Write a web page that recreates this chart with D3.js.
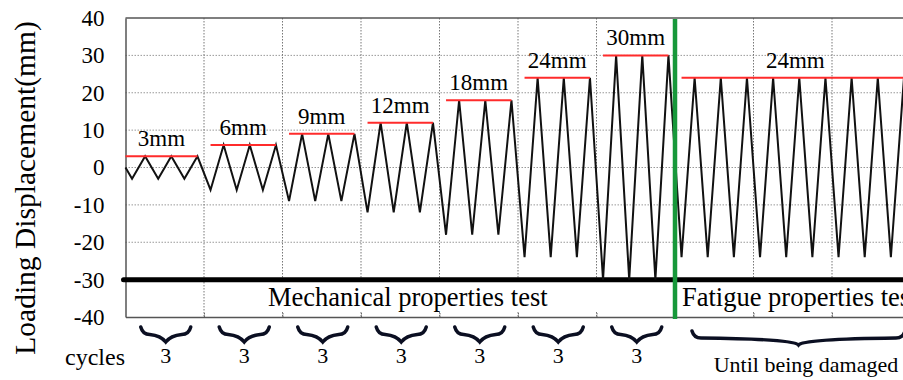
<!DOCTYPE html>
<html>
<head>
<meta charset="utf-8">
<script src="https://cdn.jsdelivr.net/npm/d3@7"></script>
<style>
  body { margin: 0; background: #fff; }
  svg { display: block; font-family: "Liberation Serif", "Times New Roman", serif; }
</style>
</head>
<body>
<svg id="chart"></svg>
<script>
// loading protocol
var blockLabels = ["3mm", "6mm", "9mm", "12mm", "18mm", "24mm", "30mm", "24mm"];
var blockAmplitude = [3, 6, 9, 12, 18, 24, 30, 24];
var blockCycles = [3, 3, 3, 3, 3, 3, 3, 9];   // last block runs on past the frame
var cycleTexts = ["3", "3", "3", "3", "3", "3", "3", "Until being damaged"];
var phaseTexts = ["Mechanical properties test", "Fatigue properties test"];

// one peak / one trough per cycle (mm)
var peakValues   = [3, 3, 3, 6, 6, 6, 9, 9, 9, 12, 12, 12, 18, 18, 18, 24, 24, 24, 30, 30, 30,
                    24, 24, 24, 24, 24, 24, 24, 24, 24];
var troughValues = [-3, -3, -3, -6, -6, -6, -9, -9, -9, -12, -12, -12, -18, -18, -18, -24, -24, -24, -30, -30, -30,
                    -24, -24, -24, -24, -24, -24, -24, -24, -24];

var yTicks = [40, 30, 20, 10, 0, -10, -20, -30, -40];
var yGrid = [30, 20, 10, 0, -10, -20];

var screen = { width: 903, height: 380 };

var drawChart = function(svgSelector) {
  var svg = d3.select(svgSelector)
    .attr("width", screen.width)
    .attr("height", screen.height);

  var xScale = d3.scaleLinear().domain([0, 30]).range([125.5, 910.5]);
  var yScale = d3.scaleLinear().domain([-40, 40]).range([317, 18]);
  var right = screen.width;

  // block boundaries (in cycles)
  var starts = [];
  var acc = 0;
  blockCycles.forEach(function(n) { starts.push(acc); acc += n; });
  var fatigueStart = starts[starts.length - 1];

  // horizontal dotted grid
  svg.append("g").selectAll("line")
    .data(yGrid).enter().append("line")
    .attr("x1", xScale(0)).attr("x2", right)
    .attr("y1", function(d) { return yScale(d); })
    .attr("y2", function(d) { return yScale(d); })
    .style("stroke", "#999").style("stroke-width", 1)
    .style("stroke-dasharray", "1.5,1.5");

  // vertical dotted grid every block
  var vTicks = d3.range(3, 31, 3).filter(function(d) { return d !== fatigueStart; });
  svg.append("g").selectAll("line")
    .data(vTicks).enter().append("line")
    .attr("x1", function(d) { return xScale(d); })
    .attr("x2", function(d) { return xScale(d); })
    .attr("y1", yScale(40)).attr("y2", yScale(-40))
    .style("stroke", "#777").style("stroke-width", 1)
    .style("stroke-dasharray", "1.5,1.5");

  // white label boxes under the -30 line
  svg.append("rect")
    .attr("x", xScale(3) + 2).attr("y", yScale(-30) + 2)
    .attr("width", xScale(fatigueStart) - xScale(3) - 4)
    .attr("height", yScale(-40) - yScale(-30) - 7)
    .attr("fill", "white");
  svg.append("rect")
    .attr("x", xScale(fatigueStart) + 2).attr("y", yScale(-30) + 2)
    .attr("width", right - xScale(fatigueStart))
    .attr("height", yScale(-40) - yScale(-30) - 7)
    .attr("fill", "white");

  // frame: top, left, bottom
  svg.append("line")
    .attr("x1", xScale(0)).attr("x2", right)
    .attr("y1", yScale(40)).attr("y2", yScale(40))
    .style("stroke", "#555").style("stroke-width", 1.5);

  var xAxis = d3.axisBottom(xScale)
    .tickValues(vTicks)
    .tickSizeInner(-5).tickSizeOuter(0)
    .tickFormat("");
  var gx = svg.append("g")
    .attr("transform", "translate(0," + yScale(-40) + ")")
    .call(xAxis);
  gx.select(".domain").attr("stroke", "#555").attr("stroke-width", 1.5);
  gx.selectAll(".tick line").attr("stroke", "#666").style("stroke-dasharray", "1.5,1");

  var yAxis = d3.axisLeft(yScale)
    .tickValues(yTicks)
    .tickFormat(function(d) { return String(d); })   // plain hyphen minus
    .tickSize(0).tickPadding(21);
  var gy = svg.append("g")
    .attr("transform", "translate(" + xScale(0) + ",0)")
    .call(yAxis);
  gy.select(".domain").attr("stroke", "#555").attr("stroke-width", 1.5);
  gy.selectAll("text")
    .style("font-family", "'Liberation Serif', serif")
    .style("font-size", "23px")
    .attr("fill", "#000");

  // thick -30 line
  svg.append("line")
    .attr("x1", xScale(0) - 2).attr("x2", right)
    .attr("y1", yScale(-30)).attr("y2", yScale(-30))
    .style("stroke", "#000").style("stroke-width", 5)
    .style("stroke-linecap", "round");

  // loading wave
  var wave = [[0, 0]];
  peakValues.forEach(function(p, i) {
    wave.push([i + 0.25, troughValues[i]]);
    wave.push([i + 0.75, p]);
  });
  var line = d3.line()
    .x(function(d) { return xScale(d[0]); })
    .y(function(d) { return yScale(d[1]); });
  svg.append("path")
    .datum(wave)
    .attr("d", line)
    .attr("fill", "none")
    .style("stroke", "#111")
    .style("stroke-width", 2)
    .style("stroke-linejoin", "miter");

  // red amplitude markers + labels
  blockAmplitude.forEach(function(a, i) {
    var s = i === 0 ? starts[i] : starts[i] + 0.25;
    var e = i === blockAmplitude.length - 1 ? 31 : starts[i] + blockCycles[i] - 0.25;
    svg.append("line")
      .attr("x1", xScale(s)).attr("x2", Math.min(xScale(e), right))
      .attr("y1", yScale(a)).attr("y2", yScale(a))
      .style("stroke", "#ff2b2b").style("stroke-width", 2);
    var cx = i === blockAmplitude.length - 1 ? xScale(starts[i] + 4.6)
                                             : (xScale(s) + xScale(e)) / 2;
    svg.append("text")
      .attr("x", cx).attr("y", yScale(a) - 10)
      .attr("text-anchor", "middle")
      .style("font-size", "23px").attr("fill", "#000")
      .text(blockLabels[i]);
  });

  // phase divider
  svg.append("line")
    .attr("x1", xScale(fatigueStart)).attr("x2", xScale(fatigueStart))
    .attr("y1", yScale(40) + 1).attr("y2", yScale(-40) + 2)
    .style("stroke", "#17983a").style("stroke-width", 4.5);

  // phase labels
  svg.append("text")
    .attr("x", 268).attr("y", 306)
    .style("font-size", "26.5px").attr("fill", "#000")
    .text(phaseTexts[0]);
  svg.append("text")
    .attr("x", xScale(fatigueStart) + 7).attr("y", 306)
    .style("font-size", "26.5px").attr("fill", "#000")
    .text(phaseTexts[1]);

  // braces and cycle counts
  var brace = function(x0, x1, y0, h) {
    var xm = (x0 + x1) / 2;
    var yb = y0 + h * 0.5;
    return "M" + x0 + "," + y0 +
      " Q" + (x0 + 2) + "," + yb + " " + (x0 + 9) + "," + yb +
      " Q" + (xm - 5) + "," + (yb + 1) + " " + xm + "," + (y0 + h) +
      " Q" + (xm + 5) + "," + (yb + 1) + " " + (x1 - 9) + "," + yb +
      " Q" + (x1 - 2) + "," + yb + " " + x1 + "," + y0;
  };
  cycleTexts.forEach(function(t, i) {
    var last = i === cycleTexts.length - 1;
    var x0 = last ? xScale(starts[i]) + 17 : xScale(starts[i] + 1.5) - 24;
    var x1 = last ? 905 : xScale(starts[i] + 1.5) + 26;
    svg.append("path")
      .attr("d", brace(x0, x1, last ? 331 : 327, last ? 14 : 15))
      .attr("fill", "none")
      .style("stroke", "#0b0f22")
      .style("stroke-width", 3.5)
      .style("stroke-linecap", "round");
    svg.append("text")
      .attr("x", last ? 806 : xScale(starts[i] + 1.5) + 1)
      .attr("y", last ? 372 : 363)
      .attr("text-anchor", "middle")
      .style("font-size", "22px").attr("fill", "#000")
      .text(t);
  });

  svg.append("text")
    .attr("x", 65).attr("y", 365)
    .style("font-size", "24px").attr("fill", "#000")
    .text("cycles");

  // y title
  svg.append("text")
    .attr("transform", "translate(35,188) rotate(-90)")
    .attr("text-anchor", "middle")
    .style("font-size", "29.5px").attr("fill", "#000")
    .text("Loading Displacement(mm)");
};

drawChart("#chart");
</script>
</body>
</html>
